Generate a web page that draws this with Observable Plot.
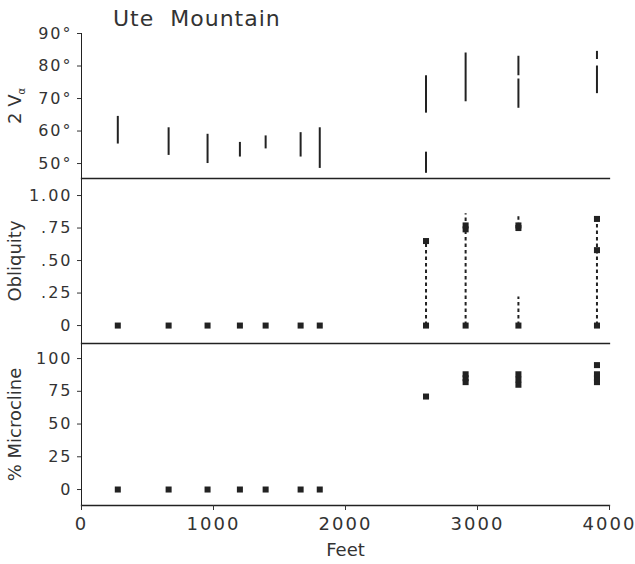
<!DOCTYPE html>
<html><head><meta charset="utf-8">
<script src="https://cdn.jsdelivr.net/npm/d3@7"></script>
<script src="https://cdn.jsdelivr.net/npm/@observablehq/plot@0.6"></script>
<style>
body{margin:0;background:#fff;}
#wrap{position:relative;width:635px;height:564px;font-family:"DejaVu Sans",sans-serif;color:#333;}
#title{position:absolute;left:113px;top:8px;font-size:22px;line-height:1;white-space:pre;letter-spacing:1px;}
.panel{position:absolute;left:0;}
.panel svg{font-family:"DejaVu Sans",sans-serif;}
g[aria-label="y-axis tick label"] text{font-size:16px;letter-spacing:2px;}
g[aria-label="x-axis tick label"] text{font-size:18px;letter-spacing:2px;}
g[aria-label="y-axis label"] text{font-size:18px;}
g[aria-label="x-axis label"] text{font-size:18px;}
</style></head><body>
<div id="wrap"><div id="title">Ute  Mountain</div>
<div class="panel" id="p1" style="top:0px"></div>
<div class="panel" id="p2" style="top:177px"></div>
<div class="panel" id="p3" style="top:342px"></div>
</div>
<script>
// Sample locations (feet)
const feet = [275, 660, 955, 1200, 1395, 1660, 1805, 2610, 2910, 3310, 3905];

// 2Vα ranges (degrees): location, low, high
const vFeet = [275, 660, 955, 1200, 1395, 1660, 1805, 2610, 2610, 2910, 3310, 3310, 3905, 3905];
const vLow  = [56, 52.5, 50, 52, 54.5, 52, 48.5, 65.5, 47, 69, 67, 77, 71.5, 82];
const vHigh = [64.5, 61, 59, 56.5, 58.5, 59.5, 61, 77, 53.5, 84, 76, 83, 80, 84.5];
const vTicks = [50, 60, 70, 80, 90];

// Obliquity points
const oFeet = [275, 660, 955, 1200, 1395, 1660, 1805, 2610, 2610, 2910, 2910, 2910, 3310, 3310, 3310, 3905, 3905, 3905];
const oVal  = [0, 0, 0, 0, 0, 0, 0, 0, 0.65, 0, 0.74, 0.77, 0, 0.75, 0.77, 0, 0.58, 0.82];
// Obliquity dashed ranges
const orFeet = [2610, 2910, 3310, 3310, 3905];
const orLow  = [0, 0, 0, 0.76, 0];
const orHigh = [0.65, 0.86, 0.22, 0.86, 0.82];
const oTicks = [0, 0.25, 0.5, 0.75, 1];
const oTickLabels = ["0", ".25", ".50", ".75", "1.00"];

// % Microcline points
const mFeet = [275, 660, 955, 1200, 1395, 1660, 1805, 2610, 2910, 2910, 2910, 3310, 3310, 3310, 3905, 3905, 3905, 3905];
const mVal  = [0, 0, 0, 0, 0, 0, 0, 71, 82, 85, 88, 80, 84, 88, 82, 85, 88, 95];
const mTicks = [0, 25, 50, 75, 100];
const xTicks = [0, 1000, 2000, 3000, 4000];

const ink = "#222";
const vData = vFeet.map((f, i) => ({feet: f, lo: vLow[i], hi: vHigh[i]}));
const oData = oFeet.map((f, i) => ({feet: f, v: oVal[i]}));
const orData = orFeet.map((f, i) => ({feet: f, lo: orLow[i], hi: orHigh[i]}));
const mData = mFeet.map((f, i) => ({feet: f, v: mVal[i]}));

const common = {
  width: 635, marginLeft: 81, marginRight: 26,
  x: {domain: [0, 4000]},
  style: {background: "transparent", overflow: "visible", color: "#333"}
};
const yAxisOpts = {tickSize: 4, tickPadding: 5, labelAnchor: "center", labelOffset: 73, labelArrow: "none"};

const p1 = Plot.plot({
  ...common, height: 180, marginTop: 33, marginBottom: 2,
  x: {domain: [0, 4000], axis: null},
  y: {domain: [45.4, 90]},
  marks: [
    Plot.frame({anchor: "left", stroke: ink}),
    Plot.frame({anchor: "bottom", stroke: ink, strokeWidth: 1.3}),
    Plot.axisY(vTicks, {...yAxisOpts, tickFormat: d => d + "°", label: "2 V"}),
    Plot.ruleX(vData, {x: "feet", y1: "lo", y2: "hi", stroke: ink, strokeWidth: 2})
  ]
});
document.getElementById("p1").appendChild(p1);
const lab = p1.querySelector('g[aria-label="y-axis label"] text');
if (lab) {
  const ts = document.createElementNS("http://www.w3.org/2000/svg", "tspan");
  ts.setAttribute("font-size", "10px");
  ts.setAttribute("style", "font-size:10px");
  ts.setAttribute("dy", "0.4em");
  ts.textContent = "α";
  lab.appendChild(ts);
}

const p2 = Plot.plot({
  ...common, height: 168, marginTop: 1, marginBottom: 2,
  x: {domain: [0, 4000], axis: null},
  y: {domain: [-0.138, 1.131]},
  marks: [
    Plot.frame({anchor: "left", stroke: ink}),
    Plot.frame({anchor: "bottom", stroke: ink, strokeWidth: 1.3}),
    Plot.axisY(oTicks, {...yAxisOpts, tickFormat: (d, i) => oTickLabels[oTicks.indexOf(d)], label: "Obliquity"}),
    Plot.ruleX(orData, {x: "feet", y1: "lo", y2: "hi", stroke: ink, strokeWidth: 2, strokeDasharray: "3.5,3"}),
    Plot.dot(oData, {x: "feet", y: "v", symbol: "square", r: 3.4, fill: ink, stroke: "none"})
  ]
});
document.getElementById("p2").appendChild(p2);

const p3 = Plot.plot({
  ...common, height: 222, marginTop: 1, marginBottom: 59,
  y: {domain: [-12.2, 111.5]},
  marks: [
    Plot.frame({anchor: "left", stroke: ink}),
    Plot.frame({anchor: "bottom", stroke: ink, strokeWidth: 1.3}),
    Plot.axisY(mTicks, {...yAxisOpts, label: "% Microcline"}),
    Plot.axisX(xTicks, {tickSize: 5, tickPadding: 7, tickFormat: d => String(d), label: "Feet", labelAnchor: "center", labelOffset: 50, labelArrow: "none"}),
    Plot.dot(mData, {x: "feet", y: "v", symbol: "square", r: 3.4, fill: ink, stroke: "none"})
  ]
});
document.getElementById("p3").appendChild(p3);
</script>
</body></html>
